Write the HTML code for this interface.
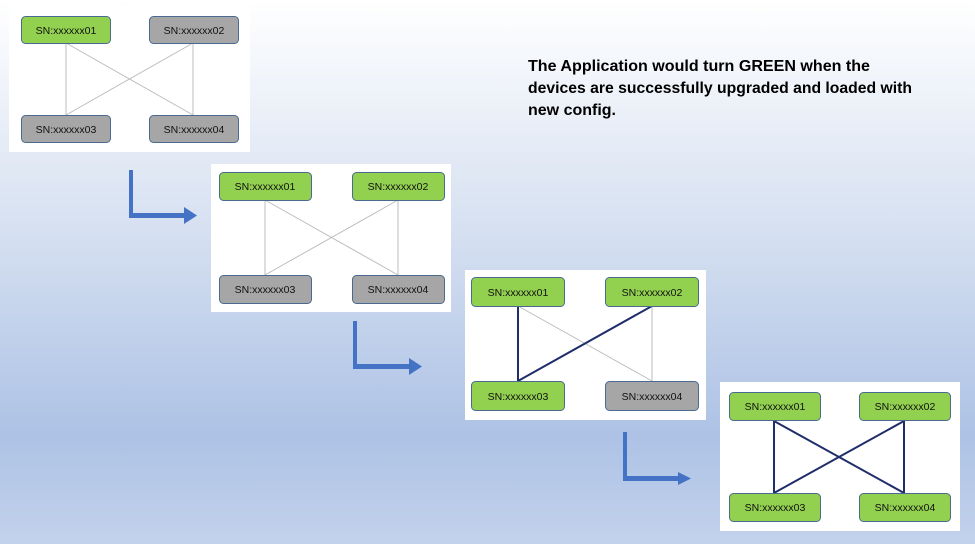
<!DOCTYPE html>
<html><head><meta charset="utf-8"><style>
html,body{margin:0;padding:0;width:975px;height:544px;overflow:hidden}
svg{display:block}
.n{font-family:"Liberation Sans",sans-serif;font-size:10.5px;fill:#111;text-anchor:middle}
.t{font-family:"Liberation Sans",sans-serif;font-size:15.5px;font-weight:bold;fill:#000}
</style></head><body>
<svg width="975" height="544" viewBox="0 0 975 544" xmlns="http://www.w3.org/2000/svg">
<defs>
<linearGradient id="bg" x1="0" y1="0" x2="0" y2="1">
<stop offset="0" stop-color="#ffffff"/>
<stop offset="0.45" stop-color="#d3def0"/>
<stop offset="0.8" stop-color="#adc2e5"/>
<stop offset="1" stop-color="#c3d2ec"/>
</linearGradient>
</defs>
<rect width="975" height="544" fill="url(#bg)"/>

<text class="t" x="528" y="71" textLength="342" lengthAdjust="spacingAndGlyphs">The Application would turn GREEN when the</text>
<text class="t" x="528" y="93" textLength="384" lengthAdjust="spacingAndGlyphs">devices are successfully upgraded and loaded with</text>
<text class="t" x="528" y="115" textLength="88" lengthAdjust="spacingAndGlyphs">new config.</text>

<!-- Panel 1 -->
<rect x="9" y="7" width="241" height="145" fill="#fff"/>
<g stroke="#bdbdbd" stroke-width="1">
<line x1="66" y1="43" x2="66" y2="115"/><line x1="193" y1="43" x2="193" y2="115"/>
<line x1="66" y1="43" x2="193" y2="115"/><line x1="193" y1="43" x2="66" y2="115"/>
</g>
<g stroke="#4a6a92" stroke-width="1">
<rect x="21.5" y="16.5" width="89" height="27" rx="4" fill="#92d050"/>
<rect x="149.5" y="16.5" width="89" height="27" rx="4" fill="#a6a6a6"/>
<rect x="21.5" y="115.5" width="89" height="27" rx="4" fill="#a6a6a6"/>
<rect x="149.5" y="115.5" width="89" height="27" rx="4" fill="#a6a6a6"/>
</g>
<text class="n" x="66" y="34">SN:xxxxxx01</text><text class="n" x="194" y="34">SN:xxxxxx02</text>
<text class="n" x="66" y="133">SN:xxxxxx03</text><text class="n" x="194" y="133">SN:xxxxxx04</text>

<!-- Panel 2 -->
<rect x="211" y="164" width="240" height="148" fill="#fff"/>
<g stroke="#bdbdbd" stroke-width="1">
<line x1="265" y1="200" x2="265" y2="275"/><line x1="398" y1="200" x2="398" y2="275"/>
<line x1="265" y1="200" x2="398" y2="275"/><line x1="398" y1="200" x2="265" y2="275"/>
</g>
<g stroke="#4a6a92" stroke-width="1">
<rect x="219.5" y="172.5" width="92" height="28" rx="4" fill="#92d050"/>
<rect x="352.5" y="172.5" width="92" height="28" rx="4" fill="#92d050"/>
<rect x="219.5" y="275.5" width="92" height="28" rx="4" fill="#a6a6a6"/>
<rect x="352.5" y="275.5" width="92" height="28" rx="4" fill="#a6a6a6"/>
</g>
<text class="n" x="265" y="190">SN:xxxxxx01</text><text class="n" x="398" y="190">SN:xxxxxx02</text>
<text class="n" x="265" y="293">SN:xxxxxx03</text><text class="n" x="398" y="293">SN:xxxxxx04</text>

<!-- Panel 3 -->
<rect x="465" y="270" width="241" height="150" fill="#fff"/>
<g stroke="#bdbdbd" stroke-width="1">
<line x1="518" y1="306" x2="652" y2="381"/><line x1="652" y1="306" x2="652" y2="381"/>
</g>
<g stroke="#1f2d6b" stroke-width="2">
<line x1="518" y1="306" x2="518" y2="381"/><line x1="652" y1="306" x2="518" y2="381"/>
</g>
<g stroke="#4a6a92" stroke-width="1">
<rect x="471.5" y="277.5" width="93" height="29" rx="4" fill="#92d050"/>
<rect x="605.5" y="277.5" width="93" height="29" rx="4" fill="#92d050"/>
<rect x="471.5" y="381.5" width="93" height="29" rx="4" fill="#92d050"/>
<rect x="605.5" y="381.5" width="93" height="29" rx="4" fill="#a6a6a6"/>
</g>
<text class="n" x="518" y="296">SN:xxxxxx01</text><text class="n" x="652" y="296">SN:xxxxxx02</text>
<text class="n" x="518" y="400">SN:xxxxxx03</text><text class="n" x="652" y="400">SN:xxxxxx04</text>

<!-- Panel 4 -->
<rect x="720" y="382" width="240" height="149" fill="#fff"/>
<g stroke="#1f2d6b" stroke-width="2">
<line x1="774" y1="421" x2="774" y2="493"/><line x1="904" y1="421" x2="904" y2="493"/>
<line x1="774" y1="421" x2="904" y2="493"/><line x1="904" y1="421" x2="774" y2="493"/>
</g>
<g stroke="#4a6a92" stroke-width="1">
<rect x="729.5" y="392.5" width="91" height="28" rx="4" fill="#92d050"/>
<rect x="859.5" y="392.5" width="91" height="28" rx="4" fill="#92d050"/>
<rect x="729.5" y="493.5" width="91" height="28" rx="4" fill="#92d050"/>
<rect x="859.5" y="493.5" width="91" height="28" rx="4" fill="#92d050"/>
</g>
<text class="n" x="775" y="410">SN:xxxxxx01</text><text class="n" x="905" y="410">SN:xxxxxx02</text>
<text class="n" x="775" y="511">SN:xxxxxx03</text><text class="n" x="905" y="511">SN:xxxxxx04</text>

<!-- Arrows -->
<g fill="#4472c4">
<path d="M129 170 H133 V213 H184 V207 L197 215.5 L184 224 V218 H129 Z"/>
<path d="M353 321 H357 V364 H409 V358 L422 366.5 L409 375 V369 H353 Z"/>
<path d="M623 432 H627 V476 H678 V472 L691 478.5 L678 485 V481 H623 Z"/>
</g>
</svg>
</body></html>
